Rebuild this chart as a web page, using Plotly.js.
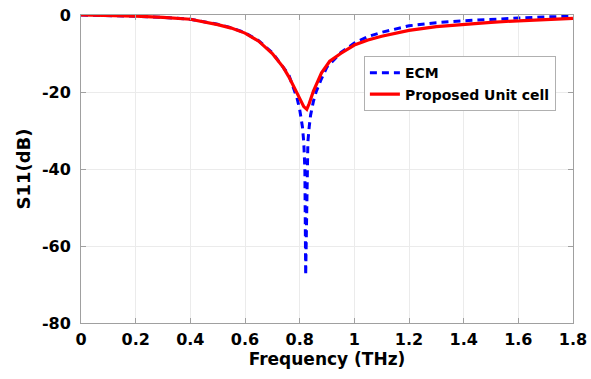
<!DOCTYPE html>
<html>
<head>
<meta charset="utf-8">
<script src="https://cdn.plot.ly/plotly-3.0.1.min.js"></script>
<style>html,body{margin:0;padding:0;background:#fff;}#chart{width:591px;height:379px;}</style>
</head>
<body>
<div id="chart"></div>
<script>
// Proposed unit cell (red solid)
const freqCell = [0, 0.1, 0.2, 0.3, 0.4, 0.5, 0.55, 0.6, 0.65, 0.7, 0.74, 0.76, 0.78, 0.8, 0.815, 0.826, 0.835, 0.85, 0.863, 0.88, 0.91, 0.95, 1.0, 1.05, 1.1, 1.2, 1.3, 1.4, 1.5, 1.6, 1.7, 1.8];
const s11Cell  = [0, -0.1, -0.3, -0.6, -1.1, -2.5, -3.4, -4.7, -6.8, -10.0, -13.6, -16.0, -19.0, -22.0, -23.8, -24.5, -23.0, -19.8, -17.5, -15.0, -12.0, -10.0, -7.8, -6.5, -5.5, -4.0, -3.0, -2.4, -1.9, -1.5, -1.2, -0.9];
// ECM (blue dashed)
const freqEcm = [0, 0.1, 0.2, 0.3, 0.4, 0.5, 0.55, 0.6, 0.65, 0.7, 0.74, 0.76, 0.78, 0.79, 0.8, 0.81, 0.815, 0.819, 0.822, 0.826, 0.83, 0.835, 0.84, 0.85, 0.86, 0.88, 0.9, 0.95, 1.0, 1.05, 1.1, 1.2, 1.3, 1.4, 1.5, 1.6, 1.7, 1.8];
const s11Ecm  = [0, -0.1, -0.3, -0.6, -1.1, -2.4, -3.3, -4.6, -6.7, -9.8, -13.8, -15.5, -19.5, -21.5, -24.5, -29, -33, -40, -67.6, -42, -33, -29, -26, -22.5, -20, -16.5, -13.5, -9.8, -7.3, -5.6, -4.5, -2.8, -2.0, -1.5, -1.1, -0.8, -0.5, -0.3];
const xTicks = [0, 0.2, 0.4, 0.6, 0.8, 1, 1.2, 1.4, 1.6, 1.8];
const xTickText = ['0', '0.2', '0.4', '0.6', '0.8', '1', '1.2', '1.4', '1.6', '1.8'];
const yTicks = [-80, -60, -40, -20, 0];
const yTickText = ['-80', '-60', '-40', '-20', '0'];

const traces = [
  {x: freqEcm, y: s11Ecm, name: 'ECM', mode: 'lines', type: 'scatter',
   line: {color: '#0000ff', width: 3, dash: '7px,5px'}},
  {x: freqCell, y: s11Cell, name: 'Proposed Unit cell', mode: 'lines', type: 'scatter',
   line: {color: '#ff0000', width: 3.2}}
];
const fnt = {family: 'DejaVu Sans, sans-serif', color: '#000', weight: 'bold'};
const layout = {
  width: 591, height: 379,
  margin: {l: 81, r: 18, t: 15, b: 56, pad: 0},
  paper_bgcolor: '#fff', plot_bgcolor: '#fff',
  showlegend: true,
  legend: {x: 0.575, y: 0.866, xanchor: 'left', yanchor: 'top', bgcolor: '#fff',
           bordercolor: '#b0b0b0', borderwidth: 1, font: Object.assign({}, fnt, {size: 14}),
           tracegroupgap: 0, itemwidth: 30},
  xaxis: {range: [0, 1.8], tickvals: xTicks, ticktext: xTickText, showgrid: true, gridcolor: '#ebebeb',
          zeroline: false, showline: true, linecolor: '#a0a0a0', linewidth: 1, mirror: 'ticks',
          ticks: 'inside', ticklen: 5, tickcolor: '#a0a0a0', ticklabelstandoff: 2,
          tickfont: Object.assign({}, fnt, {size: 16}),
          title: {text: 'Frequency (THz)', font: Object.assign({}, fnt, {size: 17}), standoff: 2}},
  yaxis: {range: [-80, 0], tickvals: yTicks, ticktext: yTickText, showgrid: true, gridcolor: '#ebebeb',
          zeroline: false, showline: true, linecolor: '#a0a0a0', linewidth: 1, mirror: 'ticks',
          ticks: 'inside', ticklen: 5, tickcolor: '#a0a0a0', ticklabelstandoff: 6,
          tickfont: Object.assign({}, fnt, {size: 16}),
          title: {text: 'S11(dB)', font: Object.assign({}, fnt, {size: 18}), standoff: 6}}
};
Plotly.newPlot('chart', traces, layout, {displayModeBar: false, staticPlot: true});
</script>
</body>
</html>
